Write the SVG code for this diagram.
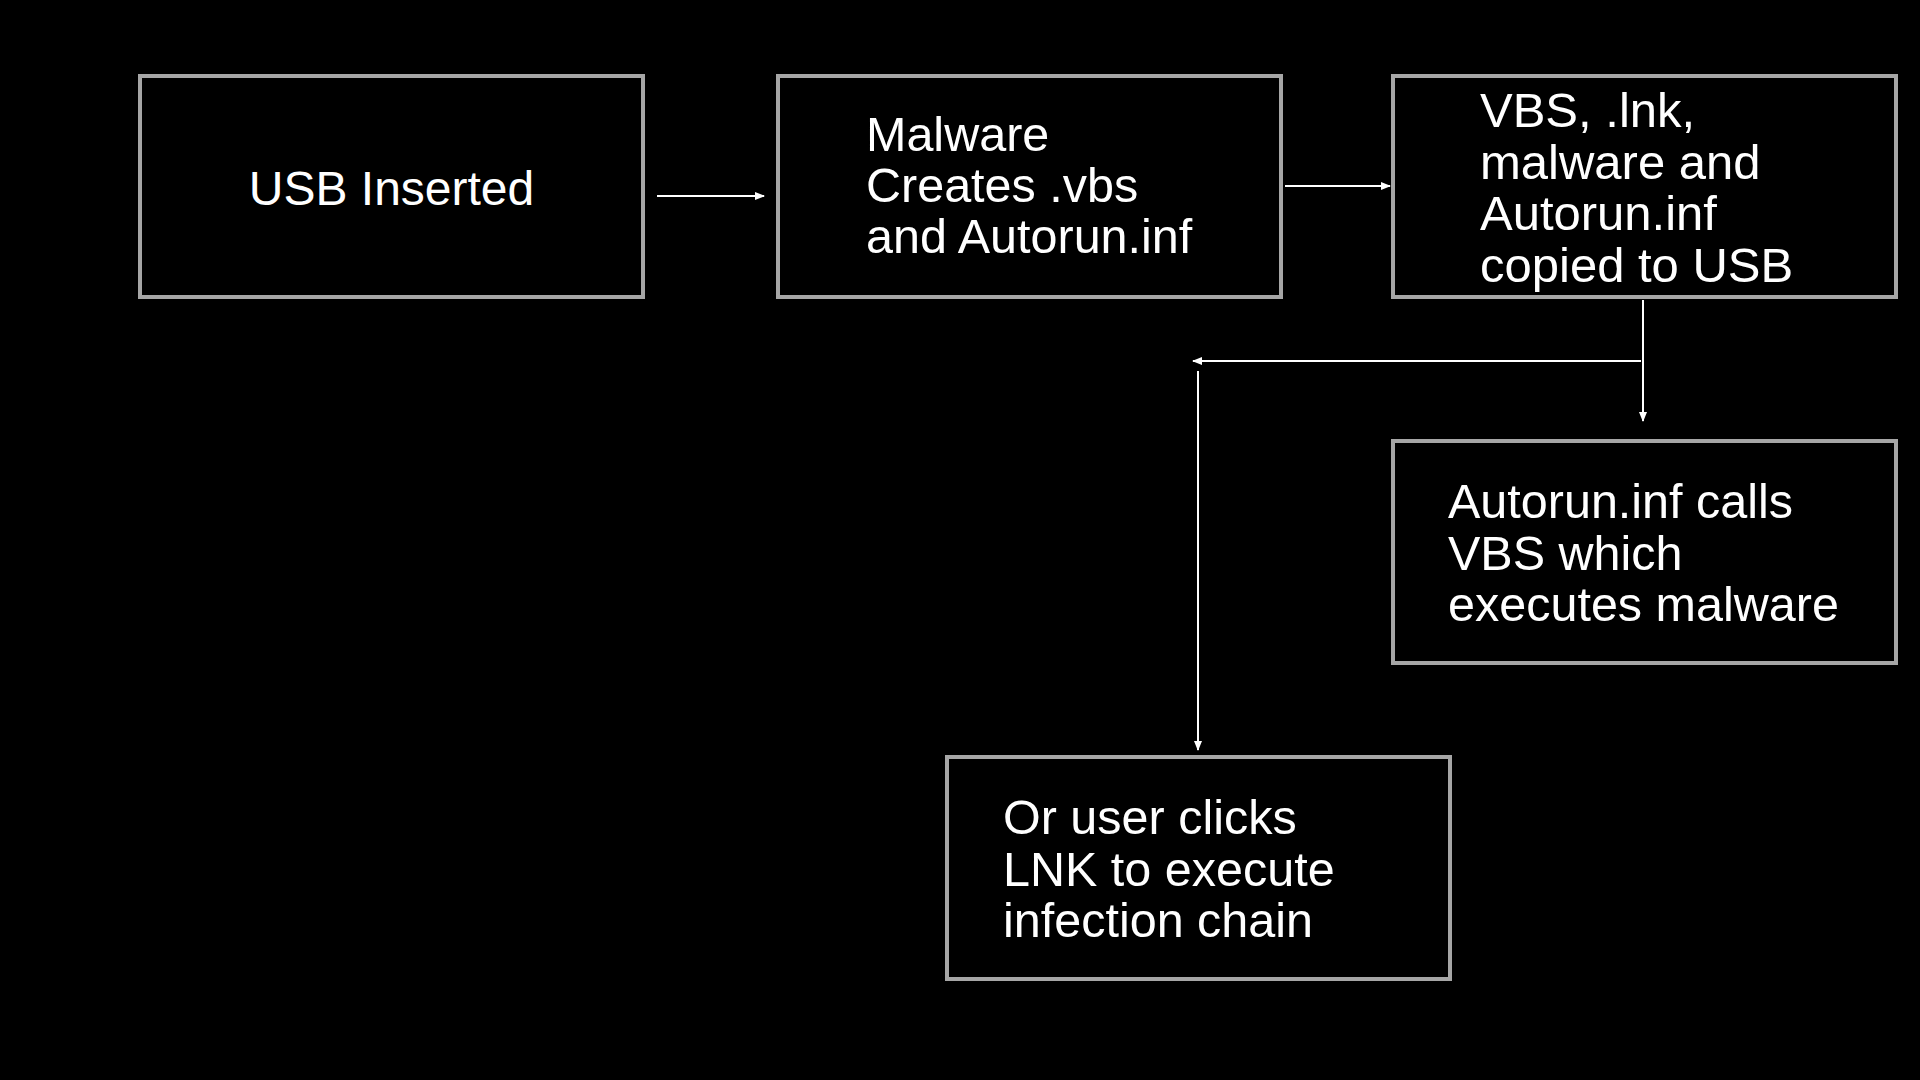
<svg xmlns="http://www.w3.org/2000/svg" width="1920" height="1080" viewBox="0 0 1920 1080">
<defs>
<style>
.box{fill:#000;stroke:#a6a6a6;stroke-width:4}
.t{font-family:"Liberation Sans",Arial,sans-serif;font-size:48.5px;fill:#fff}
.c{stroke:#fff;stroke-width:2;fill:none}
</style>
<marker id="ah" markerWidth="10" markerHeight="10" refX="9" refY="5" orient="auto" markerUnits="userSpaceOnUse">
<path d="M0,1 L10,5 L0,9 Z" fill="#fff"/>
</marker>
</defs>
<rect width="1920" height="1080" fill="#000"/>
<g id="n1">
<rect class="box" x="140" y="76" width="503" height="221"/>
<text class="t" x="391.5" y="205" text-anchor="middle" style="font-size:48px">USB Inserted</text>
</g>
<g id="n2">
<rect class="box" x="778" y="76" width="503" height="221"/>
<text class="t" x="866"><tspan x="866" y="151">Malware</tspan><tspan x="866" y="202">Creates .vbs</tspan><tspan x="866" y="253">and Autorun.inf</tspan></text>
</g>
<g id="n3">
<rect class="box" x="1393" y="76" width="503" height="221"/>
<text class="t" style="font-size:49px"><tspan x="1480" y="127">VBS, .lnk,</tspan><tspan x="1480" y="178.5">malware and</tspan><tspan x="1480" y="230">Autorun.inf</tspan><tspan x="1480" y="281.5">copied to USB</tspan></text>
</g>
<g id="n4">
<rect class="box" x="1393" y="441" width="503" height="222"/>
<text class="t"><tspan x="1448" y="518">Autorun.inf calls</tspan><tspan x="1448" y="569.5">VBS which</tspan><tspan x="1448" y="621">executes malware</tspan></text>
</g>
<g id="n5">
<rect class="box" x="947" y="757" width="503" height="222"/>
<text class="t"><tspan x="1003" y="834">Or user clicks</tspan><tspan x="1003" y="885.5">LNK to execute</tspan><tspan x="1003" y="937">infection chain</tspan></text>
</g>
<g id="connectors">
<line class="c" x1="657" y1="196" x2="764" y2="196" marker-end="url(#ah)"/>
<line class="c" x1="1285" y1="186" x2="1390" y2="186" marker-end="url(#ah)"/>
<line class="c" x1="1643" y1="300" x2="1643" y2="421" marker-end="url(#ah)"/>
<line class="c" x1="1641" y1="361" x2="1193" y2="361" marker-end="url(#ah)"/>
<line class="c" x1="1198" y1="371" x2="1198" y2="750" marker-end="url(#ah)"/>
</g>
</svg>
